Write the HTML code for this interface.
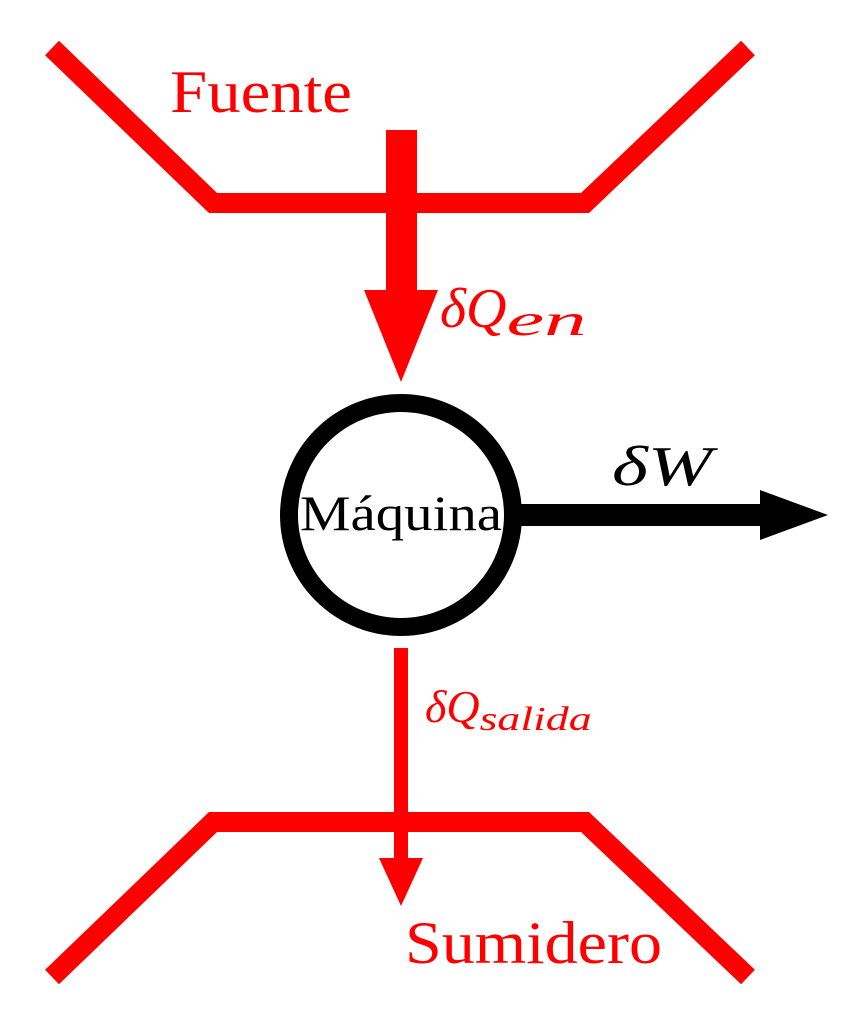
<!DOCTYPE html>
<html><head><meta charset="utf-8"><style>
html,body{margin:0;padding:0;background:#fff;}
svg{display:block}
</style></head><body>
<svg width="846" height="1024" viewBox="0 0 846 1024" xmlns="http://www.w3.org/2000/svg">
<g fill="none" stroke="#ff0000" stroke-width="20" stroke-linecap="butt" stroke-linejoin="miter">
<polyline points="52,48 213,203 585,203 748,48"/>
<polyline points="52,977 213,822 585,822 748,977"/>
</g>
<rect x="386" y="130" width="31" height="165" fill="#ff0000"/>
<polygon points="364,290 438,290 401,382" fill="#ff0000"/>
<rect x="394" y="648" width="14" height="215" fill="#ff0000"/>
<polygon points="379,858 423,858 401,906" fill="#ff0000"/>
<circle cx="401" cy="515" r="112" fill="none" stroke="#000" stroke-width="18"/>
<rect x="518" y="504" width="256" height="22" fill="#000"/>
<polygon points="760,490 828,515 760,540" fill="#000"/>
<g font-family="Liberation Serif, serif">
<text x="170" y="112" font-size="60" fill="#ff0000" textLength="182" lengthAdjust="spacingAndGlyphs">Fuente</text>
<text x="405" y="963" font-size="60" fill="#ff0000" textLength="257" lengthAdjust="spacingAndGlyphs">Sumidero</text>
<text x="300" y="530" font-size="50" fill="#000" textLength="202" lengthAdjust="spacingAndGlyphs">Máquina</text>
<text x="440" y="327" font-size="56" fill="#ff0000" font-style="italic">δQ<tspan font-size="44" dy="8" textLength="80" lengthAdjust="spacingAndGlyphs">en</tspan></text>
<text x="425" y="722" font-size="46" fill="#ff0000" font-style="italic">δQ<tspan font-size="34" dy="8" textLength="112" lengthAdjust="spacingAndGlyphs">salida</tspan></text>
<text x="612" y="485" font-size="56" fill="#000" font-style="italic" textLength="100" lengthAdjust="spacingAndGlyphs">δW</text>
</g>
</svg>
</body></html>
